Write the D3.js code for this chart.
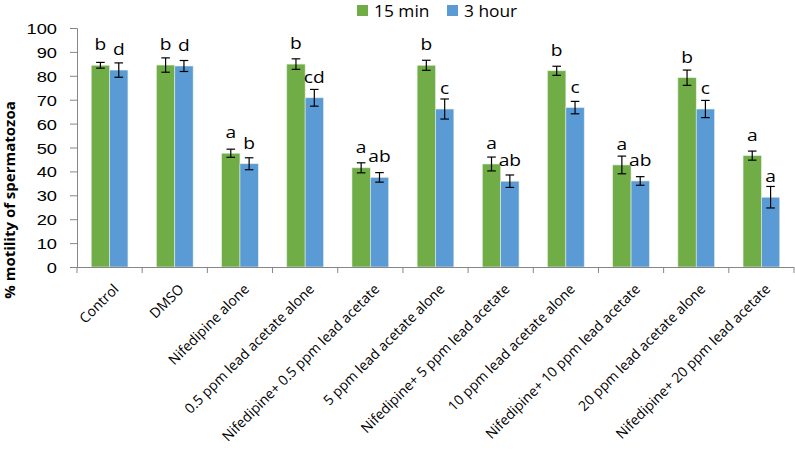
<!DOCTYPE html>
<html>
<head>
<meta charset="utf-8">
<script src="https://cdn.jsdelivr.net/npm/d3@7/dist/d3.min.js"></script>
<style>
html,body{margin:0;padding:0;background:#fff;}
svg{display:block;font-family:"Open Sans",sans-serif;}
</style>
</head>
<body>
<svg id="chart" width="795" height="450"></svg>
<script>
const categories = ["Control","DMSO","Nifedipine alone","0.5 ppm lead acetate alone","Nifedipine+ 0.5 ppm lead acetate","5 ppm lead acetate alone","Nifedipine+ 5 ppm lead acetate","10 ppm lead acetate alone","Nifedipine+ 10 ppm lead acetate","20 ppm lead acetate alone","Nifedipine+ 20 ppm lead acetate"];
const seriesNames = ["15 min","3 hour"];
const min15 = [84.4,84.5,47.6,84.9,41.5,84.4,43.1,82.1,42.7,79.2,46.6];
const min15Err = [1.2,3.0,1.7,2.2,2.1,2.1,2.9,1.9,3.7,3.2,1.9];
const hour3 = [82.4,84.1,43.2,70.8,37.5,66.1,35.9,66.7,36.0,66.1,29.2];
const hour3Err = [3.0,2.3,2.5,3.5,2.0,4.2,2.6,2.6,1.8,3.6,4.5];
const min15Letters = ["b","b","a","b","a","b","a","b","a","b","a"];
const hour3Letters = ["d","d","b","cd","ab","c","ab","c","ab","c","a"];
const yTicks = [0,10,20,30,40,50,60,70,80,90,100];
const colors = ["#70AD47","#5B9BD5"];

const svg = d3.select("#chart");
const mLeft = 77, mRight = 794, mTop = 28, mBottom = 267;

const x = d3.scaleBand().domain(categories).range([mLeft, mRight]).padding(0);
const groupW = x.bandwidth() * 0.563;
const x1 = d3.scaleBand().domain(seriesNames).range([0, groupW]).padding(0);
const y = d3.scaleLinear().domain([0,100]).range([mBottom, mTop]);

const seriesData = [
  {name: seriesNames[0], vals: min15, errs: min15Err, letters: min15Letters, color: colors[0]},
  {name: seriesNames[1], vals: hour3, errs: hour3Err, letters: hour3Letters, color: colors[1]}
];

// helper: horizontal text slightly widened
function wideText(parent, px, py, str, size, sx, anchor) {
  return parent.append("text")
    .attr("transform", `translate(${px},${py}) scale(${sx},1)`)
    .attr("text-anchor", anchor || "start")
    .attr("font-size", size).attr("fill", "#000")
    .text(str);
}

// Bars
seriesData.forEach(s => {
  const g = svg.append("g");
  categories.forEach((c, i) => {
    const bx = x(c) + (x.bandwidth() - groupW) / 2 + x1(s.name);
    g.append("rect")
      .attr("x", bx).attr("y", y(s.vals[i]))
      .attr("width", x1.bandwidth()).attr("height", y(0) - y(s.vals[i]))
      .attr("fill", s.color)
      .attr("stroke", "#e4ede0").attr("stroke-width", 0.6);
  });
});

// Error bars + letters
seriesData.forEach(s => {
  const g = svg.append("g");
  categories.forEach((c, i) => {
    const cx = x(c) + (x.bandwidth() - groupW) / 2 + x1(s.name) + x1.bandwidth() / 2;
    const hi = y(s.vals[i] + s.errs[i]), lo = y(s.vals[i] - s.errs[i]);
    g.append("line").attr("x1", cx).attr("x2", cx).attr("y1", hi).attr("y2", lo)
      .attr("stroke", "#000").attr("stroke-width", 1.2);
    [hi, lo].forEach(yy => g.append("line").attr("x1", cx - 4.3).attr("x2", cx + 4.3)
      .attr("y1", yy).attr("y2", yy).attr("stroke", "#000").attr("stroke-width", 1.2));
    wideText(g, cx, y(s.vals[i]) - 15, s.letters[i], 16, 1.2, "middle");
  });
});

// Y axis
const yAxis = d3.axisLeft(y).tickValues(yTicks).tickSize(7).tickFormat("");
const yg = svg.append("g").attr("transform", `translate(${mLeft},0)`).call(yAxis);
yg.select(".domain").attr("stroke", "#868686");
yg.selectAll(".tick line").attr("stroke", "#868686");
yg.selectAll(".tick").each(function(d) {
  wideText(d3.select(this), -20, 5.5, d3.format("d")(d), 15.5, 1.18, "end");
});

// X axis
const xAxis = d3.axisBottom(x).tickSize(0).tickFormat("");
const xg = svg.append("g").attr("transform", `translate(0,${mBottom})`).call(xAxis);
xg.select(".domain").attr("stroke", "#868686").attr("d", `M${mLeft},0.5H${mRight}`);
const bounds = categories.map(c => x(c)).concat([mRight]);
xg.selectAll(".bt").data(bounds).enter().append("line").attr("class","bt")
  .attr("x1", d => d).attr("x2", d => d).attr("y1", 0).attr("y2", 6)
  .attr("stroke", "#868686");
svg.append("g").selectAll("text").data(categories).enter().append("text")
  .attr("transform", d => `translate(${x(d) + x.bandwidth()/2 + 10},${mBottom + 23}) rotate(-45)`)
  .attr("text-anchor", "end").attr("font-size", 14).attr("fill", "#000")
  .text(d => d);

// Y title
svg.append("text").attr("transform", `translate(15,200) rotate(-90)`)
  .attr("text-anchor", "middle").attr("font-size", 15).attr("font-weight", "bold")
  .attr("fill", "#000").text("% motility of spermatozoa");

// Legend
const lg = svg.append("g");
const legX = [357, 447];
seriesData.forEach((s, i) => {
  lg.append("rect").attr("x", legX[i]).attr("y", 5).attr("width", 11).attr("height", 11).attr("fill", s.color);
  wideText(lg, legX[i] + 17, 17, s.name, 15.5, 1.12, "start");
});
</script>
</body>
</html>
